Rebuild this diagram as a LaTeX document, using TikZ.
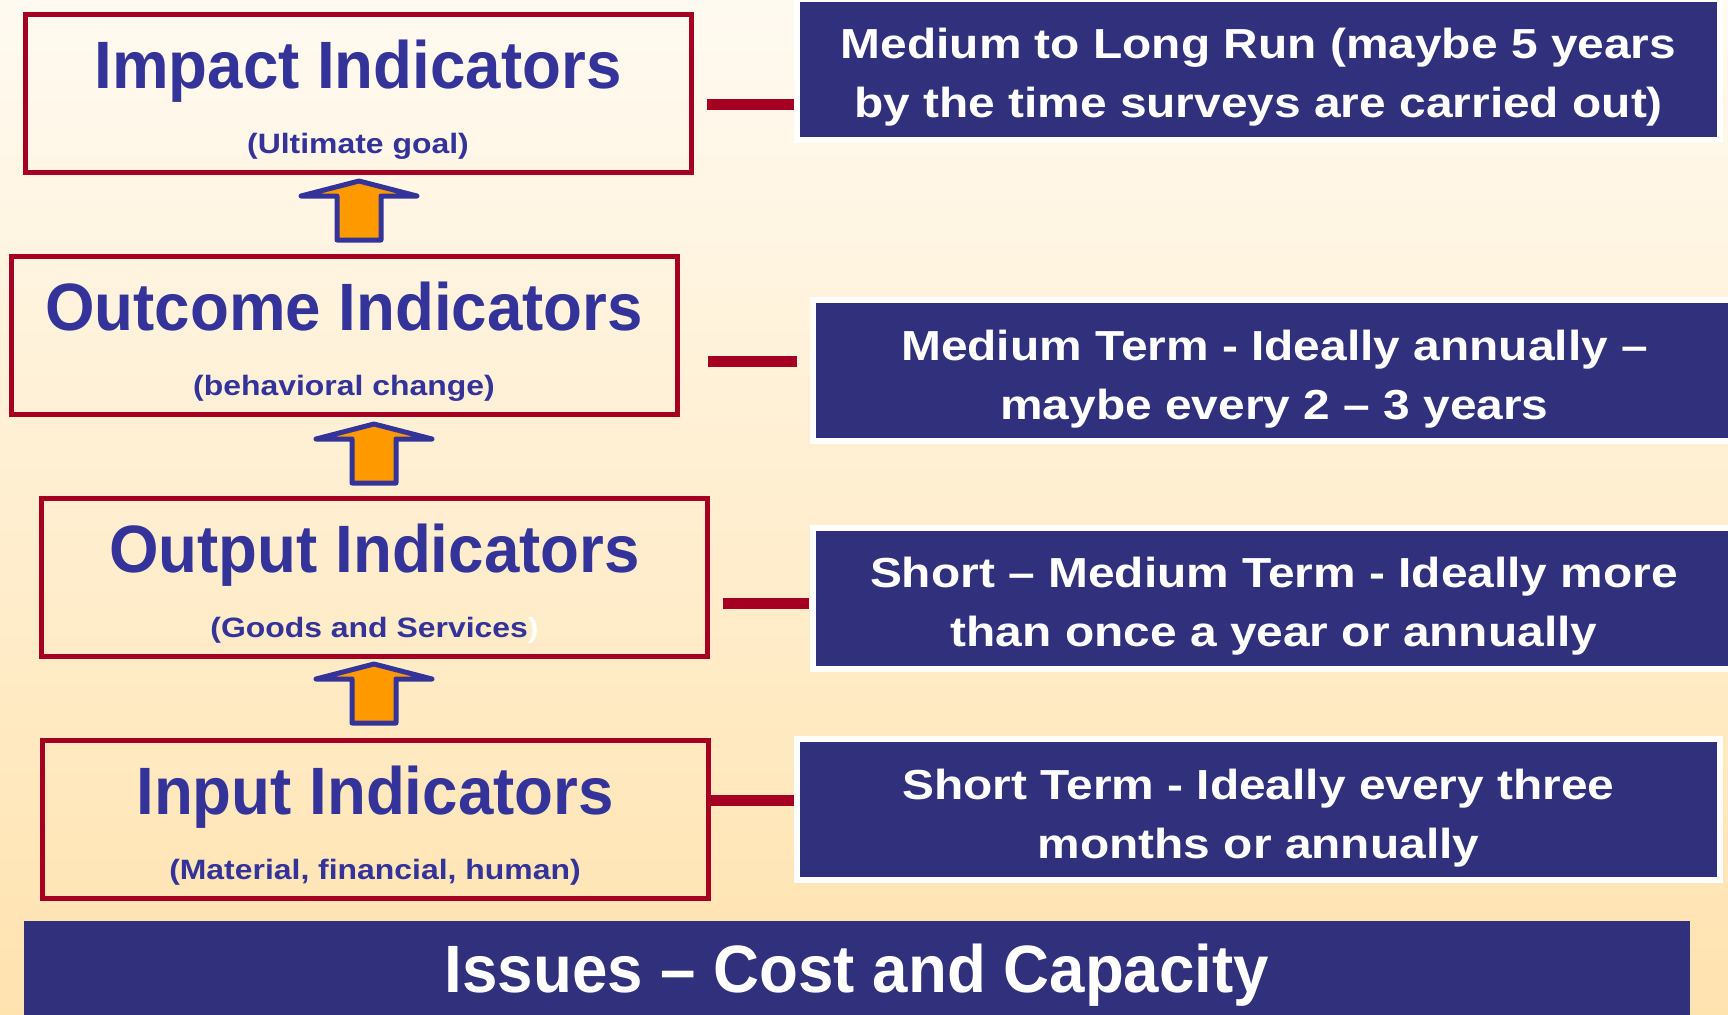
\documentclass[tikz,border=0pt]{standalone}
\usepackage{fontspec}
\setmainfont{Liberation Sans}
\newfontfamily\bigfont{Liberation Sans}[FakeStretch=0.95]
\newfontfamily\widefont{Liberation Sans}[FakeStretch=1.14]
\definecolor{titleblue}{RGB}{51,51,153}
\definecolor{boxred}{RGB}{165,0,33}
\definecolor{navyfill}{RGB}{48,48,125}
\definecolor{arroworange}{RGB}{255,153,0}
\definecolor{bgtop}{RGB}{255,250,241}
\definecolor{bgbottom}{RGB}{255,227,175}
\tikzset{
  level/.style={draw=boxred, line width=2.5pt, minimum width=333pt, minimum height=79pt, inner sep=0pt, outer sep=0pt},
  levelname/.style={anchor=base, inner sep=0pt, text=titleblue, font=\bigfont\bfseries\fontsize{33.5}{40}\selectfont},
  levelnote/.style={anchor=base, inner sep=0pt, text=titleblue, font=\widefont\bfseries\fontsize{14}{17}\selectfont},
  term/.style={draw=white, line width=3pt, fill=navyfill, minimum width=461.5pt, minimum height=70.5pt, inner sep=0pt, outer sep=0pt},
  termtext/.style={text=white, align=center, inner sep=0pt, font=\widefont\bfseries\fontsize{21}{29.5}\selectfont},
  bar/.style={draw=boxred, line width=5.5pt},
  uparrow/.style={draw=titleblue, fill=arroworange, line width=2.5pt, line join=round}
}
\begin{document}
\begin{tikzpicture}[x=0.5pt, y=-0.5pt]
      \shade[top color=bgtop, bottom color=bgbottom](0,0) rectangle (1728,1014);
      \useasboundingbox (0,0) rectangle (1728,1014);
      \foreach \n/\x/\y/\t/\s in {1/358/93.5/Impact Indicators/(Ultimate goal), 2/344/335.25/Outcome Indicators/(behavioral change), 3/374.5/577.5/Output Indicators/{(Goods and Services\textcolor{white}{)}}, 4/375/819.5/Input Indicators/{(Material, financial, human)}}{
        \node[level](L\n) at(\x, \y) {};
        \node[levelname](L\n-name) at([yshift=-37pt]L\n.north) {\t};
        \node[levelnote](L\n-note) at([yshift=-69.5pt]L\n.north) {\s};
      }
      \foreach \n/\x/\y/\t in {1/1258.5/69.5/{Medium to Long Run (maybe 5 years\\by the time surveys are carried out)}, 2/1274.5/370.75/{Medium Term - Ideally annually –\\maybe every 2 – 3 years}, 3/1274/598.5/{Short – Medium Term - Ideally more\\than once a year or annually}, 4/1258.5/809.75/{Short Term - Ideally every three\\months or annually}}{
        \node[term](R\n) at(\x, \y) {};
        \node[termtext](R\n-text) at([yshift=-4pt]R\n.center) {\t};
      }
      \foreach \n/\y/\a/\b in {1/104.5/7.75pt/1.5pt, 2/361.5/15.25pt/8pt, 3/603/7.5pt/1.75pt, 4/800/0pt/1.5pt}{
        \draw[bar, shorten <=\a, shorten >=\b](L\n.east |- 0,\y) -- (R\n.west |- 0,\y);
      }
      \foreach \x/\y in {359/181, 374/424, 374/664}{
        \draw[uparrow](\x,\y) -- (\x+58,\y+15) -- (\x+22,\y+15) -- (\x+22,\y+59) -- (\x-22,\y+59) -- (\x-22,\y+15) -- (\x-58,\y+15) -- cycle;
      }
      \node[fill=navyfill, minimum width=833pt, minimum height=54.5pt, inner sep=0pt, text=white, font=\bigfont\bfseries\fontsize{33.5}{40}\selectfont](issues) at(857, 975.5) {Issues – Cost and Capacity};
    \end{tikzpicture}
\end{document}
